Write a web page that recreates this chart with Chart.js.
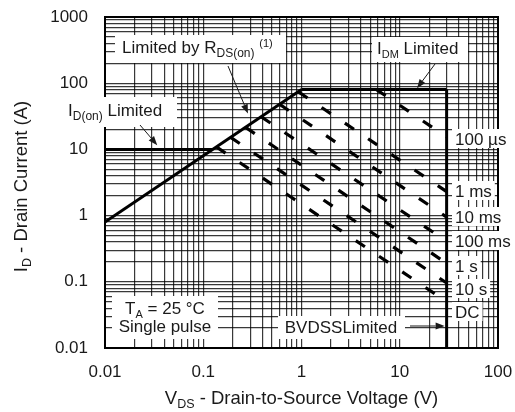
<!DOCTYPE html>
<html>
<head>
<meta charset="utf-8">
<script src="https://cdn.jsdelivr.net/npm/chart.js@4.4.1/dist/chart.umd.min.js"></script>
<style>
  html, body { margin: 0; padding: 0; background: #fff; }
  #wrap { width: 515px; height: 412px; }
</style>
</head>
<body>
<div id="wrap"><canvas id="soa" width="515" height="412"></canvas></div>
<script>
// EIXOS (log-log)
const xTickLabels = [0.01, 0.1, 1, 10, 100];
const yTickLabels = [0.01, 0.1, 1, 10, 100, 1000];
const gridSteps = [1, 2, 3, 4, 5, 6, 7, 8, 9];

// LIMITES
const rdsV = [0.01, 1];      const rdsI = [0.8, 80];
const idOnV = [0.01, 0.125]; const idOnI = [10, 10];
const idmV = [1, 30];        const idmI = [80, 80];
const bvdssV = [30, 30];     const bvdssI = [80, 0.01];

// CURVAS DE PULSO (inicio no limite, fim em BVDSS)
const pulseNames  = ['100 µs', '1 ms', '10 ms', '100 ms', '1 s', '10 s', 'DC'];
const pulseStartV = [5.8, 0.93, 0.6, 0.39, 0.27, 0.19, 0.136];
const pulseStartI = [80, 74, 48, 31, 21.5, 15.2, 10.9];
const pulseEndV   = [30, 30, 30, 30, 30, 30, 30];
const pulseEndI   = [15.4, 2.3, 0.95, 0.41, 0.19, 0.096, 0.05];

const FONT = '"Liberation Sans", Arial, sans-serif';
const INK = '#1a1a1a';

function gridValues(min, max) {
    const out = [];
    for (let e = Math.round(Math.log10(min)); e < Math.round(Math.log10(max)); e++) {
        gridSteps.forEach(s => out.push(+(s * Math.pow(10, e)).toPrecision(3)));
    }
    out.push(max);
    return out;
}

const pts = (vs, is) => vs.map((v, k) => ({ x: v, y: is[k] }));
const solid = d => ({ data: d, borderColor: '#000', borderWidth: 3, pointRadius: 0, borderCapStyle: 'butt' });

const datasets = [
    solid(pts(rdsV, rdsI)),
    solid(pts(idOnV, idOnI)),
    solid(pts(idmV, idmI)),
    solid(pts(bvdssV, bvdssI))
];
pulseNames.forEach((n, k) => {
    datasets.push({
        label: n,
        data: [{ x: pulseStartV[k], y: pulseStartI[k] }, { x: pulseEndV[k], y: pulseEndI[k] }],
        borderColor: '#000', borderWidth: 3.2, pointRadius: 0,
        borderDash: [11, 17], borderCapStyle: 'butt'
    });
});

// texto com subscrito / sobrescrito
function drawRuns(ctx, runs, x, y, align) {
    let w = 0;
    runs.forEach(r => { ctx.font = `${r.s}px ${FONT}`; w += ctx.measureText(r.t).width; });
    let cx = align === 'center' ? x - w / 2 : x;
    ctx.textAlign = 'left'; ctx.textBaseline = 'alphabetic'; ctx.fillStyle = INK;
    runs.forEach(r => {
        ctx.font = `${r.s}px ${FONT}`;
        ctx.fillText(r.t, cx, y + (r.dy || 0));
        cx += ctx.measureText(r.t).width;
    });
    return w;
}

function arrow(ctx, x1, y1, x2, y2) {
    const a = Math.atan2(y2 - y1, x2 - x1), L = 9, W = 3.5;
    ctx.strokeStyle = INK; ctx.fillStyle = INK; ctx.lineWidth = 1;
    ctx.beginPath(); ctx.moveTo(x1, y1);
    ctx.lineTo(x2 - L * Math.cos(a), y2 - L * Math.sin(a)); ctx.stroke();
    ctx.beginPath(); ctx.moveTo(x2, y2);
    ctx.lineTo(x2 - L * Math.cos(a) + W * Math.sin(a), y2 - L * Math.sin(a) - W * Math.cos(a));
    ctx.lineTo(x2 - L * Math.cos(a) - W * Math.sin(a), y2 - L * Math.sin(a) + W * Math.cos(a));
    ctx.closePath(); ctx.fill();
}

const white = (ctx, x1, y1, x2, y2) => { ctx.fillStyle = '#fff'; ctx.fillRect(x1, y1, x2 - x1, y2 - y1); };

const anotacoes = {
    id: 'anotacoes',
    afterDatasetsDraw(chart) {
        const ctx = chart.ctx, ca = chart.chartArea;
        const sx = chart.scales.x, sy = chart.scales.y;
        ctx.save();
        // moldura
        ctx.strokeStyle = '#000'; ctx.lineWidth = 2;
        ctx.strokeRect(ca.left, ca.top, ca.right - ca.left, ca.bottom - ca.top);

        // Limited by RDS(on)
        white(ctx, 115, 35, 286, 63);
        drawRuns(ctx, [{ t: 'Limited by R', s: 17 }, { t: 'DS(on)', s: 12, dy: 4 }, { t: ' ', s: 17 }, { t: '(1)', s: 11, dy: -6 }], 122, 53);
        arrow(ctx, 228, 66, sx.getPixelForValue(0.285), sy.getPixelForValue(35));

        // IDM Limited
        white(ctx, 372, 37, 468, 62);
        drawRuns(ctx, [{ t: 'I', s: 17 }, { t: 'DM', s: 11, dy: 4 }, { t: ' Limited', s: 17 }], 377, 54);
        arrow(ctx, 435, 64, sx.getPixelForValue(15), sy.getPixelForValue(84));

        // ID(on) Limited
        white(ctx, 60, 97, 177, 127);
        drawRuns(ctx, [{ t: 'I', s: 17 }, { t: 'D(on)', s: 12, dy: 4 }, { t: ' Limited', s: 17 }], 68, 116);
        arrow(ctx, 140, 125, sx.getPixelForValue(0.034), sy.getPixelForValue(11.6));

        // TA / Single pulse
        white(ctx, 112, 296, 218, 339);
        drawRuns(ctx, [{ t: 'T', s: 17 }, { t: 'A', s: 11, dy: 4 }, { t: ' = 25 °C', s: 17 }], 165, 314, 'center');
        drawRuns(ctx, [{ t: 'Single pulse', s: 17 }], 165, 332, 'center');

        // BVDSS
        white(ctx, 278, 316, 405, 339);
        drawRuns(ctx, [{ t: 'BVDSSLimited', s: 17 }], 341, 333, 'center');
        arrow(ctx, 410, 326, sx.getPixelForValue(30) - 2, 326);

        // rotulos das curvas
        const ys = [139, 191, 217, 241, 266, 289, 312];
        pulseNames.forEach((n, k) => {
            ctx.font = `17px ${FONT}`;
            const w = ctx.measureText(n).width;
            white(ctx, 452, ys[k] - 10, 456 + w + 2, ys[k] + 9);
            drawRuns(ctx, [{ t: n, s: 17 }], 455, ys[k] + 6);
        });

        // titulos dos eixos
        drawRuns(ctx, [{ t: 'V', s: 18.5 }, { t: 'DS', s: 12.5, dy: 4 }, { t: ' - Drain-to-Source Voltage (V)', s: 18.5 }],
            (ca.left + ca.right) / 2, 404, 'center');
        ctx.translate(27, (ca.top + ca.bottom) / 2 + 4);
        ctx.rotate(-Math.PI / 2);
        drawRuns(ctx, [{ t: 'I', s: 18.5 }, { t: 'D', s: 12.5, dy: 4 }, { t: ' - Drain Current (A)', s: 18.5 }], 0, 0, 'center');
        ctx.restore();
    }
};

const gridStyle = { color: 'rgba(0,0,0,0.78)', lineWidth: 1.2, drawTicks: false };
const tickFont = { family: FONT, size: 17 };
const near = (v, list) => list.find(t => Math.abs(v / t - 1) < 1e-6);

new Chart(document.getElementById('soa'), {
    type: 'line',
    data: { datasets },
    plugins: [anotacoes],
    options: {
        responsive: false, animation: false,
        layout: { padding: { top: 17, right: 17, left: 0, bottom: 0 } },
        plugins: { legend: { display: false }, tooltip: { enabled: false } },
        scales: {
            x: {
                type: 'logarithmic', min: 0.01, max: 100,
                afterBuildTicks: ax => { ax.ticks = gridValues(0.01, 100).map(v => ({ value: v })); },
                afterFit: s => { s.height = 64; s.paddingLeft = 0; s.paddingRight = 0; },
                ticks: {
                    autoSkip: false, maxRotation: 0, padding: 14, color: INK, font: tickFont,
                    callback: v => { const t = near(v, xTickLabels); return t ? String(t) : ''; }
                },
                grid: gridStyle, border: { display: false }
            },
            y: {
                type: 'logarithmic', min: 0.01, max: 1000,
                afterBuildTicks: ax => { ax.ticks = gridValues(0.01, 1000).map(v => ({ value: v })); },
                afterFit: s => { s.width = 105; s.paddingTop = 0; s.paddingBottom = 0; },
                ticks: {
                    autoSkip: false, padding: 17, color: INK, font: tickFont,
                    callback: v => { const t = near(v, yTickLabels); return t ? String(t) : ''; }
                },
                grid: gridStyle, border: { display: false }
            }
        }
    }
});
</script>
</body>
</html>
